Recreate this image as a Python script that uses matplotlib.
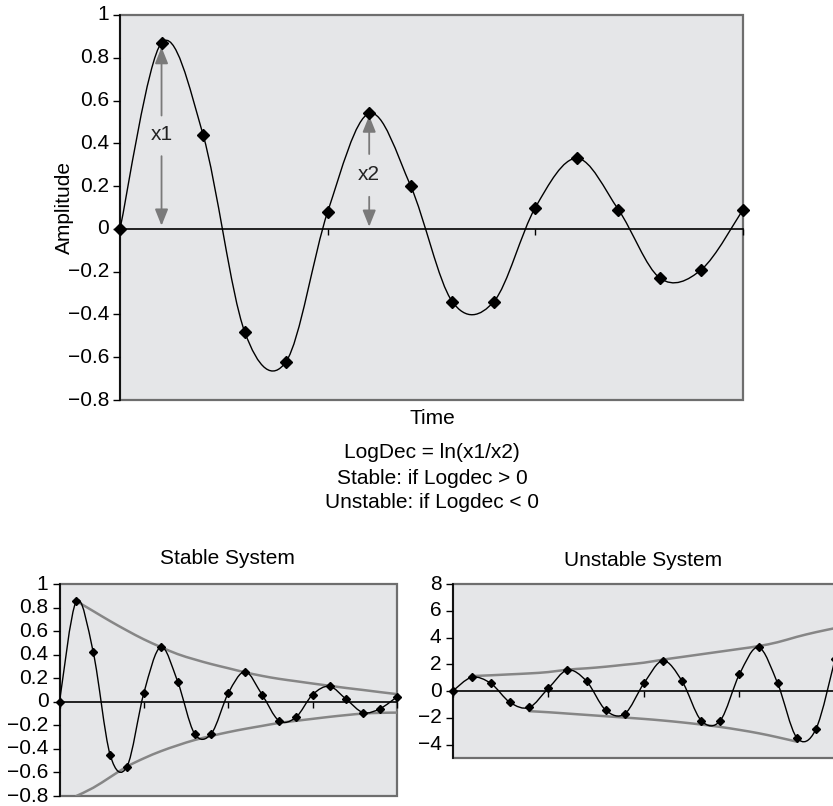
import numpy as np
import matplotlib
matplotlib.use("Agg")
import matplotlib.pyplot as plt
from matplotlib.path import Path
from matplotlib.patches import PathPatch
from matplotlib import ticker

plt.rcParams['font.family'] = ['Liberation Sans', 'DejaVu Sans']
plt.rcParams['axes.unicode_minus'] = True

# ---------------- data ----------------
main_amp = [0, 0.87, 0.44, -0.48, -0.62, 0.08, 0.54, 0.20, -0.34, -0.34,
            0.10, 0.33, 0.09, -0.23, -0.19, 0.09]
main_yticks = [-0.8, -0.6, -0.4, -0.2, 0, 0.2, 0.4, 0.6, 0.8, 1]

stable_amp = [0, 0.855, 0.42, -0.45, -0.55, 0.075, 0.465, 0.172, -0.27, -0.27,
              0.072, 0.256, 0.061, -0.16, -0.133, 0.061, 0.131, 0.02, -0.092,
              -0.058, 0.042]
stable_upper_idx = list(range(1, 21))
stable_upper = [0.855, 0.77, 0.685, 0.605, 0.53, 0.465, 0.405, 0.36, 0.32, 0.285,
                0.25, 0.22, 0.195, 0.175, 0.155, 0.136, 0.117, 0.10, 0.082, 0.065]
stable_lower_idx = list(range(1, 21))
stable_lower = [-0.80, -0.73, -0.64, -0.55, -0.48, -0.42, -0.37, -0.325, -0.29,
                -0.258, -0.23, -0.205, -0.18, -0.162, -0.145, -0.128, -0.113,
                -0.10, -0.094, -0.092]
stable_yticks = [-0.8, -0.6, -0.4, -0.2, 0, 0.2, 0.4, 0.6, 0.8, 1]

unstable_amp = [0, 1.03, 0.57, -0.85, -1.22, 0.2, 1.57, 0.74, -1.42, -1.7,
                0.57, 2.27, 0.74, -2.2, -2.2, 1.25, 3.27, 0.57, -3.48, -2.85, 2.37]
unstable_upper_idx = list(range(1, 21))
unstable_upper = [1.12, 1.18, 1.25, 1.32, 1.42, 1.6, 1.7, 1.82, 1.97, 2.12,
                  2.35, 2.55, 2.75, 2.95, 3.15, 3.36, 3.65, 4.05, 4.4, 4.7]
unstable_lower_idx = list(range(4, 19))
unstable_lower = [-1.5, -1.58, -1.68, -1.78, -1.88, -1.98, -2.08, -2.2, -2.34,
                  -2.5, -2.68, -2.9, -3.15, -3.45, -3.78]
unstable_yticks = [-4, -2, 0, 2, 4, 6, 8]

notes = ["LogDec = ln(x1/x2)", "Stable: if Logdec > 0", "Unstable: if Logdec < 0"]

# ---------------- helpers ----------------
BG = '#e5e6e8'
BORDER = '#6e6e6e'
ENV = '#868686'


def smooth_path(x, y):
    x = np.asarray(x, float)
    y = np.asarray(y, float)
    n = len(x)
    verts = [(x[0], y[0])]
    codes = [Path.MOVETO]
    for i in range(n - 1):
        p0 = i - 1 if i > 0 else i
        p3 = i + 2 if i + 2 < n else i + 1
        c1 = (x[i] + (x[i + 1] - x[p0]) / 6, y[i] + (y[i + 1] - y[p0]) / 6)
        c2 = (x[i + 1] - (x[p3] - x[i]) / 6, y[i + 1] - (y[p3] - y[i]) / 6)
        verts += [c1, c2, (x[i + 1], y[i + 1])]
        codes += [Path.CURVE4] * 3
    return Path(verts, codes)


def add_smooth(ax, x, y, color, lw, z=3):
    patch = PathPatch(smooth_path(x, y), facecolor='none', edgecolor=color,
                      lw=lw, transform=ax.transData, zorder=z,
                      capstyle='round', joinstyle='round')
    ax.add_patch(patch)


def fmt(v, p):
    s = '%g' % round(v, 2)
    return s.replace('-', '\u2212')


def style_axes(ax, xmax, ylim, yticks, fs, xticks):
    ax.set_facecolor(BG)
    ax.patch.set_edgecolor(BORDER)
    ax.patch.set_linewidth(1.6)
    ax.set_xlim(0, xmax)
    ax.set_ylim(*ylim)
    ax.set_yticks(yticks)
    ax.yaxis.set_major_formatter(ticker.FuncFormatter(fmt))
    for s in ['top', 'right']:
        ax.spines[s].set_visible(False)
    ax.spines['left'].set_color('black')
    ax.spines['left'].set_linewidth(1.2)
    ax.spines['bottom'].set_position(('data', 0))
    ax.spines['bottom'].set_color('black')
    ax.spines['bottom'].set_linewidth(1.2)
    ax.set_xticks(xticks)
    ax.set_xticklabels([])
    ax.tick_params(axis='x', direction='out', length=4, width=1, color='black')
    ax.tick_params(axis='y', direction='out', length=5, width=1, color='black',
                   labelsize=fs, pad=3)
    for lab in ax.get_yticklabels():
        lab.set_va('center')


W, H = 833, 806
fig = plt.figure(figsize=(W / 100, H / 100), dpi=100)


def ax_px(l, t, r, b):
    return fig.add_axes([l / W, 1 - b / H, (r - l) / W, (b - t) / H])


FS = 15

# ---------------- main chart ----------------
ax = ax_px(120, 15, 743, 400)
xm = np.arange(len(main_amp))
style_axes(ax, len(main_amp) - 1, (-0.8, 1.0), main_yticks, FS, [0, 5, 10, 15])
add_smooth(ax, xm, main_amp, 'black', 1.0)
ax.plot(xm, main_amp, ls='none', marker='D', ms=6.5, color='black',
        clip_on=False, zorder=5)

arrow_kw = dict(arrowstyle='-|>,head_length=1.0,head_width=0.4',
                color='#7a7a7a', lw=1.3, shrinkA=0, shrinkB=0)
ax.annotate('', xy=(1, 0.85), xytext=(1, 0.53), arrowprops=arrow_kw, zorder=4)
ax.annotate('', xy=(1, 0.015), xytext=(1, 0.34), arrowprops=arrow_kw, zorder=4)
ax.text(1, 0.44, 'x1', ha='center', va='center', fontsize=FS, color='#222222')
ax.annotate('', xy=(6, 0.53), xytext=(6, 0.35), arrowprops=arrow_kw, zorder=4)
ax.annotate('', xy=(6, 0.01), xytext=(6, 0.15), arrowprops=arrow_kw, zorder=4)
ax.text(6, 0.255, 'x2', ha='center', va='center', fontsize=FS, color='#222222')

fig.text(64 / W, 1 - 208 / H, 'Amplitude', rotation=90, ha='center', va='center',
         fontsize=FS)
fig.text(432 / W, 1 - 418 / H, 'Time', ha='center', va='center', fontsize=FS)
for k, line in enumerate(notes):
    fig.text(432 / W, 1 - (453 + 25 * k) / H, line, ha='center', va='center',
             fontsize=FS)

# ---------------- stable chart ----------------
ax2 = ax_px(59.5, 584, 397, 796)
xs = np.arange(len(stable_amp))
style_axes(ax2, len(stable_amp) - 1, (-0.8, 1.0), stable_yticks, FS, [0, 5, 10, 15, 20])
add_smooth(ax2, stable_upper_idx, stable_upper, ENV, 1.8, z=2)
add_smooth(ax2, stable_lower_idx, stable_lower, ENV, 1.8, z=2)
add_smooth(ax2, xs, stable_amp, 'black', 1.0)
ax2.plot(xs, stable_amp, ls='none', marker='D', ms=3.6, color='black',
         clip_on=False, zorder=5)
fig.text(227 / W, 1 - 558 / H, 'Stable System', ha='center', va='center', fontsize=FS)

# ---------------- unstable chart ----------------
ax3 = ax_px(452.7, 584, 835, 758)
xu = np.arange(len(unstable_amp))
style_axes(ax3, len(unstable_amp) - 1, (-5, 8), unstable_yticks, FS, [0, 5, 10, 15, 20])
add_smooth(ax3, unstable_upper_idx, unstable_upper, ENV, 1.8, z=2)
add_smooth(ax3, unstable_lower_idx, unstable_lower, ENV, 1.8, z=2)
add_smooth(ax3, xu, unstable_amp, 'black', 1.0)
ax3.plot(xu, unstable_amp, ls='none', marker='D', ms=3.6, color='black',
         clip_on=False, zorder=5)
fig.text(643 / W, 1 - 560 / H, 'Unstable System', ha='center', va='center', fontsize=FS)

fig.savefig('out.png', dpi=100)
